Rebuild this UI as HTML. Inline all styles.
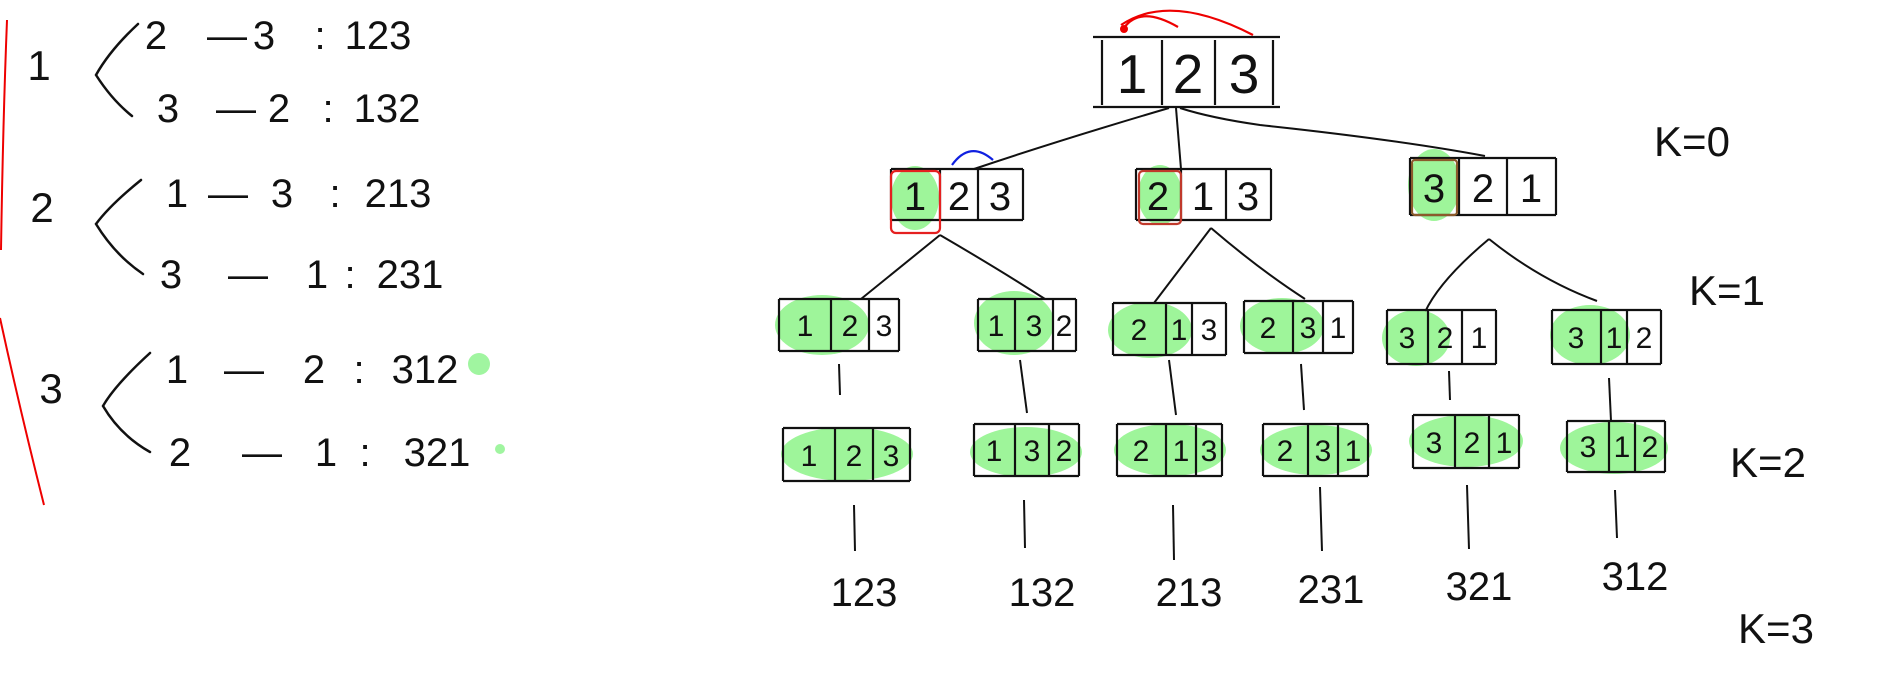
<!DOCTYPE html>
<html><head><meta charset="utf-8"><style>
html,body{margin:0;padding:0;background:#fff;}
svg{display:block;}
text{font-family:"Liberation Sans",sans-serif;fill:#111;text-anchor:middle;}
</style></head><body>
<svg width="1878" height="689" viewBox="0 0 1878 689" xmlns="http://www.w3.org/2000/svg">
<g fill="none" stroke="#e00" stroke-width="2">
<path d="M7,20 Q3,120 1,250"/>
<path d="M0,318 Q20,410 44,505"/>
</g>
<g fill="none" stroke="#111" stroke-width="2.5" stroke-linecap="round">
<path d="M138,24 Q110,50 96,75 Q112,100 132,116"/>
<path d="M141,180 Q110,205 96,224 Q115,255 143,274"/>
<path d="M150,353 Q115,385 103,406 Q120,435 150,452"/>
</g>
<g font-size="42">
<text x="39" y="80">1</text>
<text x="42" y="222">2</text>
<text x="51" y="403">3</text>
</g>
<g font-size="40">
<text x="156" y="49">2</text><text x="227" y="49">—</text><text x="264" y="49">3</text><text x="320" y="49">:</text><text x="378" y="49">123</text>
<text x="168" y="122">3</text><text x="236" y="122">—</text><text x="279" y="122">2</text><text x="328" y="122">:</text><text x="387" y="122">132</text>
<text x="177" y="207">1</text><text x="228" y="207">—</text><text x="282" y="207">3</text><text x="335" y="207">:</text><text x="398" y="207">213</text>
<text x="171" y="288">3</text><text x="248" y="288">—</text><text x="317" y="288">1</text><text x="350" y="288">:</text><text x="410" y="288">231</text>
<text x="177" y="383">1</text><text x="244" y="383">—</text><text x="314" y="383">2</text><text x="359" y="383">:</text><text x="425" y="383">312</text>
<text x="180" y="466">2</text><text x="262" y="466">—</text><text x="326" y="466">1</text><text x="365" y="466">:</text><text x="437" y="466">321</text>
</g>
<circle cx="479" cy="364" r="11" fill="#a0f5a0"/>
<circle cx="500" cy="449" r="5" fill="#a0f5a0"/>

<!-- connectors -->
<g fill="none" stroke="#111" stroke-width="2">
<path d="M1169,108 Q1060,140 974,169"/>
<path d="M1176,108 L1181,169"/>
<path d="M1180,108 Q1211,118 1260,125 Q1400,140 1485,156"/>
<path d="M940,235 L861,299"/><path d="M940,235 Q1000,270 1045,299"/>
<path d="M1211,228 L1154,303"/><path d="M1211,228 Q1260,270 1305,299"/>
<path d="M1489,239 Q1440,280 1425,312"/><path d="M1489,239 Q1540,280 1597,301"/>
<path d="M839,364 L840,395"/><path d="M1020,360 L1027,413"/><path d="M1169,360 L1176,415"/><path d="M1301,364 L1304,410"/><path d="M1449,371 L1450,400"/><path d="M1609,378 L1611,421"/>
<path d="M854,505 L855,551"/><path d="M1024,500 L1025,548"/><path d="M1173,505 L1174,560"/><path d="M1320,487 L1322,551"/><path d="M1467,485 L1469,549"/><path d="M1615,490 L1617,538"/>
</g>

<!-- green -->
<g fill="#9ef59a">
<ellipse cx="915" cy="198" rx="24" ry="32"/>
<ellipse cx="1160" cy="195" rx="22" ry="30"/>
<ellipse cx="1434" cy="185" rx="26" ry="36"/>
<ellipse cx="822" cy="325" rx="47" ry="30"/>
<ellipse cx="1014" cy="323" rx="40" ry="32"/>
<ellipse cx="1150" cy="330" rx="42" ry="28"/>
<ellipse cx="1282" cy="326" rx="42" ry="28"/>
<ellipse cx="1416" cy="338" rx="34" ry="28"/>
<ellipse cx="1590" cy="335" rx="40" ry="30"/>
<ellipse cx="847" cy="454" rx="66" ry="27"/>
<ellipse cx="1026" cy="452" rx="56" ry="25"/>
<ellipse cx="1170" cy="450" rx="56" ry="26"/>
<ellipse cx="1316" cy="450" rx="56" ry="25"/>
<ellipse cx="1466" cy="441" rx="57" ry="26"/>
<ellipse cx="1614" cy="448" rx="54" ry="26"/>
</g>

<!-- boxes -->
<g fill="none" stroke="#111" stroke-width="2.2">
<path d="M1093,37 L1280,37 M1093,107 L1280,107 M1102,40 L1102,105 M1162,40 L1162,105 M1215,40 L1215,105 M1273,40 L1273,105"/>
<path d="M891,169 L1023,169 M891,220 L1023,220 M891,169 L891,220 M940,169 L940,220 M978,169 L978,220 M1023,169 L1023,220"/>
<path d="M1136,169 L1271,169 M1136,220 L1271,220 M1136,169 L1136,220 M1181,169 L1181,220 M1226,169 L1226,220 M1271,169 L1271,220"/>
<path d="M1410,158 L1556,158 M1410,215 L1556,215 M1410,158 L1410,215 M1459,158 L1459,215 M1507,158 L1507,215 M1556,158 L1556,215"/>
<path d="M779,299 L899,299 M779,351 L899,351 M779,299 L779,351 M831,299 L831,351 M869,299 L869,351 M899,299 L899,351"/>
<path d="M978,299 L1076,299 M978,351 L1076,351 M978,299 L978,351 M1015,299 L1015,351 M1053,299 L1053,351 M1076,299 L1076,351"/>
<path d="M1113,303 L1226,303 M1113,355 L1226,355 M1113,303 L1113,355 M1166,303 L1166,355 M1192,303 L1192,355 M1226,303 L1226,355"/>
<path d="M1244,301 L1353,301 M1244,353 L1353,353 M1244,301 L1244,353 M1293,301 L1293,353 M1323,301 L1323,353 M1353,301 L1353,353"/>
<path d="M1387,310 L1496,310 M1387,364 L1496,364 M1387,310 L1387,364 M1428,310 L1428,364 M1462,310 L1462,364 M1496,310 L1496,364"/>
<path d="M1552,310 L1661,310 M1552,364 L1661,364 M1552,310 L1552,364 M1601,310 L1601,364 M1627,310 L1627,364 M1661,310 L1661,364"/>
<path d="M783,428 L910,428 M783,481 L910,481 M783,428 L783,481 M835,428 L835,481 M873,428 L873,481 M910,428 L910,481"/>
<path d="M974,424 L1079,424 M974,476 L1079,476 M974,424 L974,476 M1015,424 L1015,476 M1049,424 L1049,476 M1079,424 L1079,476"/>
<path d="M1117,424 L1222,424 M1117,476 L1222,476 M1117,424 L1117,476 M1166,424 L1166,476 M1196,424 L1196,476 M1222,424 L1222,476"/>
<path d="M1263,424 L1368,424 M1263,476 L1368,476 M1263,424 L1263,476 M1308,424 L1308,476 M1338,424 L1338,476 M1368,424 L1368,476"/>
<path d="M1413,415 L1519,415 M1413,468 L1519,468 M1413,415 L1413,468 M1455,415 L1455,468 M1489,415 L1489,468 M1519,415 L1519,468"/>
<path d="M1567,421 L1665,421 M1567,472 L1665,472 M1567,421 L1567,472 M1609,421 L1609,472 M1635,421 L1635,472 M1665,421 L1665,472"/>
</g>
<g fill="none" stroke-width="2.2">
<rect x="891" y="171" width="49" height="62" rx="5" stroke="#e52020"/>
<rect x="1139" y="171" width="42" height="53" rx="4" stroke="#c0392b"/>
<rect x="1412" y="160" width="45" height="55" rx="3" stroke="#8b5a2b"/>
<path d="M1124,28 Q1140,5 1178,27" stroke="#e00"/>
<path d="M1121,25 Q1170,-8 1253,35" stroke="#e00"/>
<path d="M952,165 Q970,140 993,160" stroke="#1020e0"/>
</g>
<circle cx="1124" cy="29" r="4" fill="#e00"/>

<!-- box digits -->
<g font-size="55"><text x="1132" y="93">1</text><text x="1188" y="93">2</text><text x="1244" y="93">3</text></g>
<g font-size="40">
<text x="915" y="210">1</text><text x="959" y="210">2</text><text x="1000" y="210">3</text>
<text x="1158" y="210">2</text><text x="1203" y="210">1</text><text x="1248" y="210">3</text>
<text x="1434" y="202">3</text><text x="1483" y="202">2</text><text x="1531" y="202">1</text>
</g>
<g font-size="30">
<text x="805" y="336">1</text><text x="850" y="336">2</text><text x="884" y="336">3</text>
<text x="996" y="336">1</text><text x="1034" y="336">3</text><text x="1064" y="336">2</text>
<text x="1139" y="340">2</text><text x="1179" y="340">1</text><text x="1209" y="340">3</text>
<text x="1268" y="338">2</text><text x="1308" y="338">3</text><text x="1338" y="338">1</text>
<text x="1407" y="348">3</text><text x="1445" y="348">2</text><text x="1479" y="348">1</text>
<text x="1576" y="348">3</text><text x="1614" y="348">1</text><text x="1644" y="348">2</text>
<text x="809" y="466">1</text><text x="854" y="466">2</text><text x="891" y="466">3</text>
<text x="994" y="461">1</text><text x="1032" y="461">3</text><text x="1064" y="461">2</text>
<text x="1141" y="461">2</text><text x="1181" y="461">1</text><text x="1209" y="461">3</text>
<text x="1285" y="461">2</text><text x="1323" y="461">3</text><text x="1353" y="461">1</text>
<text x="1434" y="453">3</text><text x="1472" y="453">2</text><text x="1504" y="453">1</text>
<text x="1588" y="457">3</text><text x="1622" y="457">1</text><text x="1650" y="457">2</text>
</g>
<g font-size="40">
<text x="864" y="606">123</text><text x="1042" y="606">132</text><text x="1189" y="606">213</text>
<text x="1331" y="603">231</text><text x="1479" y="600">321</text><text x="1635" y="590">312</text>
</g>
<g font-size="42">
<text x="1692" y="156">K=0</text>
<text x="1727" y="305">K=1</text>
<text x="1768" y="477">K=2</text>
<text x="1776" y="643">K=3</text>
</g>
</svg>
</body></html>
